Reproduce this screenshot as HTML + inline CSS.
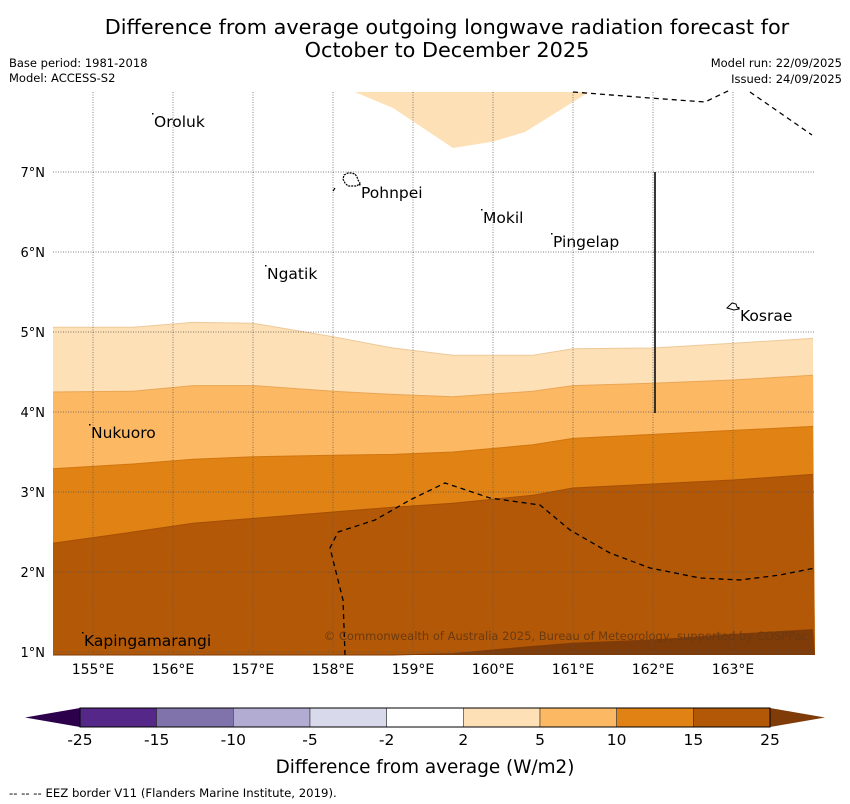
<!DOCTYPE html>
<html><head><meta charset="utf-8"><style>
body{margin:0;background:#fff}
svg{display:block;font-family:"DejaVu Sans","Liberation Sans",sans-serif}
</style></head><body>
<svg id="chart" width="850" height="804" viewBox="0 0 850 804" xmlns="http://www.w3.org/2000/svg">
<text x="447" y="34" font-size="20.8" text-anchor="middle">Difference from average outgoing longwave radiation forecast for</text>
<text x="447" y="57" font-size="20.8" text-anchor="middle">October to December 2025</text>
<text x="9" y="67" font-size="11.5">Base period: 1981-2018</text>
<text x="9" y="82" font-size="11.5">Model: ACCESS-S2</text>
<text x="842" y="67" font-size="11.5" text-anchor="end">Model run: 22/09/2025</text>
<text x="842" y="83" font-size="11.5" text-anchor="end">Issued: 24/09/2025</text>
<g id="map"></g>
<g id="cbar"></g>
<text x="425" y="773" font-size="18.4" text-anchor="middle">Difference from average (W/m2)</text>
<text x="9" y="797" font-size="11.7">--  --  -- EEZ border V11 (Flanders Marine Institute, 2019).</text>
</svg>
<script>
const lons=[154.5,155.5,156.25,157,158,158.75,159.5,160.5,161,162,163,164];
const b2=[5.06,5.06,5.12,5.11,4.94,4.80,4.71,4.71,4.79,4.80,4.86,4.92];
const b5=[4.25,4.26,4.33,4.33,4.26,4.22,4.19,4.26,4.33,4.36,4.40,4.46];
const b10=[3.29,3.35,3.41,3.44,3.46,3.47,3.50,3.59,3.67,3.72,3.77,3.82];
const b15=[2.36,2.50,2.61,2.67,2.75,2.81,2.86,2.96,3.05,3.10,3.15,3.22];
const b25=[0.5,0.6,0.7,0.8,0.9,0.95,0.98,1.07,1.11,1.15,1.22,1.28];
const topLons=[158.27,158.75,159.2,159.5,160.0,160.4,161.2];
const topLats=[8.0,7.8,7.5,7.3,7.38,7.5,8.0];
const xTicks=[155,156,157,158,159,160,161,162,163];
const yTicks=[1,2,3,4,5,6,7];
const cbLevels=["-25","-15","-10","-5","-2","2","5","10","15","25"];
const cbColors=["#542788","#8073ac","#b2abd2","#d8daeb","#ffffff","#fee0b6","#fdb863","#e08214","#b35806"];
const islandNames=["Oroluk","Pohnpei","Mokil","Pingelap","Ngatik","Kosrae","Nukuoro","Kapingamarangi"];
const islandPx=[[154,127],[361,198],[483,223],[553,247],[267,279],[740,321],[91,438],[84,646]];
const NS="http://www.w3.org/2000/svg";
const X=l=>53+(l-154.5)*80, Y=a=>172+(7-a)*80;
const TOP=92,BOT=655,L=53,R=815;
const map=document.getElementById('map');
function mk(t,a,p){const e=document.createElementNS(NS,t);for(const k in a)e.setAttribute(k,a[k]);(p||map).appendChild(e);return e;}
function clampY(a){return Math.min(BOT,Math.max(TOP,Y(a)));}
function band(lat,color,edge,name){
  let d='M'+L+','+BOT;
  lons.forEach((l,i)=>{d+=' L'+X(l)+','+clampY(lat[i]);});
  d+=' L'+R+','+BOT+' Z';
  const e=mk('path',{d:d,fill:color});
  
  
  let ld='';lons.forEach((l,i)=>{ld+=(i?' L':'M')+X(l)+','+clampY(lat[i]);});
  const ed=mk('path',{d:ld,fill:'none',stroke:edge,'stroke-width':1});
  
  
}
band(b2,'#fee0b6','#ecc99a','band-2-5');
band(b5,'#fdb863','#e9a655','band-5-10');
band(b10,'#e08214','#d0760f','band-10-15');
band(b15,'#b35806','#a54f05','band-15-25');
band(b25,'#7f3b08','#7f3b08','band-over-25');
let td='';topLons.forEach((l,i)=>{td+=(i?' L':'M')+X(l)+','+Y(topLats[i]);});
const tp=mk('path',{d:td+' Z',fill:'#fee0b6'});


xTicks.forEach(t=>{
  const g=mk('line',{x1:X(t),x2:X(t),y1:TOP,y2:BOT,stroke:'#555','stroke-width':0.7,'stroke-dasharray':'1,1.5'});
  
  
  const s=mk('text',{x:X(t),y:674,'font-size':14,'text-anchor':'middle'});s.textContent=t+'°E';
  
  
});
yTicks.forEach(t=>{
  const g=mk('line',{x1:L,x2:R,y1:Y(t),y2:Y(t),stroke:'#555','stroke-width':0.7,'stroke-dasharray':'1,1.5'});
  
  
  const s=mk('text',{x:45,y:Y(t)+5,'font-size':13,'text-anchor':'end'});s.textContent=t+'°N';
  
  
});
const eez=[[[345,655],[343,600],[330,548],[338,532],[375,520],[410,500],[445,483],[490,498],[540,505],[570,530],[610,553],[650,568],[700,578],[740,580],[780,575],[815,568]],[[573,92],[650,98],[705,102],[730,90]],[[750,92],[812,135]]];
eez.forEach(pts=>{
  const e=mk('polyline',{points:pts.map(p=>p.join(',')).join(' '),fill:'none',stroke:'#000','stroke-width':1.3,'stroke-dasharray':'5,4'});
  
  
});
const sm=mk('line',{x1:333,y1:191,x2:335,y2:188,stroke:'#000','stroke-width':1.2});


const vl=mk('line',{x1:655,x2:655,y1:172,y2:413,stroke:'#222','stroke-width':1.8});


const pohn=mk('path',{d:'M344,175 l4,-2 l3,0 l4,1 l2,3 l1,3 l2,3 l-3,3 l-5,0 l-4,0 l-3,-3 l-2,-4 z',fill:'none',stroke:'#000','stroke-width':1.2,'stroke-dasharray':'2,1'});


const kos=mk('path',{d:'M727,308 l3,-3 l2,-2 l4,1 l1,3 l2,2 l-5,1 z',fill:'#fff',stroke:'#000','stroke-width':1});


islandNames.forEach((n,i)=>{
  const p=islandPx[i];
  const dot=mk('rect',{x:p[0]-2,y:p[1]-14,width:1.5,height:1.5,fill:'#000'});
  
  
  const t=mk('text',{x:p[0],y:p[1],'font-size':15.5});t.textContent=n;
  
  
});
const cp=mk('text',{x:808,y:640,'font-size':11.5,'text-anchor':'end',fill:'#6b3a10'});
cp.textContent='© Commonwealth of Australia 2025, Bureau of Meteorology, supported by COSPPac';


const cb=document.getElementById('cbar');
const cx0=80,cx1=770,cy=708,ch=19,sw=(cx1-cx0)/cbColors.length;
const la=mk('polygon',{points:`25,${cy+ch/2} ${cx0},${cy} ${cx0},${cy+ch}`,fill:'#2d004b'},cb);


const ra=mk('polygon',{points:`825,${cy+ch/2} ${cx1},${cy} ${cx1},${cy+ch}`,fill:'#7f3b08'},cb);


cbColors.forEach((c,i)=>{
  const r=mk('rect',{x:cx0+i*sw,y:cy,width:sw,height:ch,fill:c,stroke:'#333','stroke-width':0.6},cb);
  
  
});
mk('rect',{x:cx0,y:cy,width:cx1-cx0,height:ch,fill:'none',stroke:'#000','stroke-width':1},cb);
cbLevels.forEach((v,i)=>{
  const t=mk('text',{x:cx0+i*sw,y:745,'font-size':15.5,'text-anchor':'middle'},cb);t.textContent=v;
  
  
});
</script>
</body></html>
